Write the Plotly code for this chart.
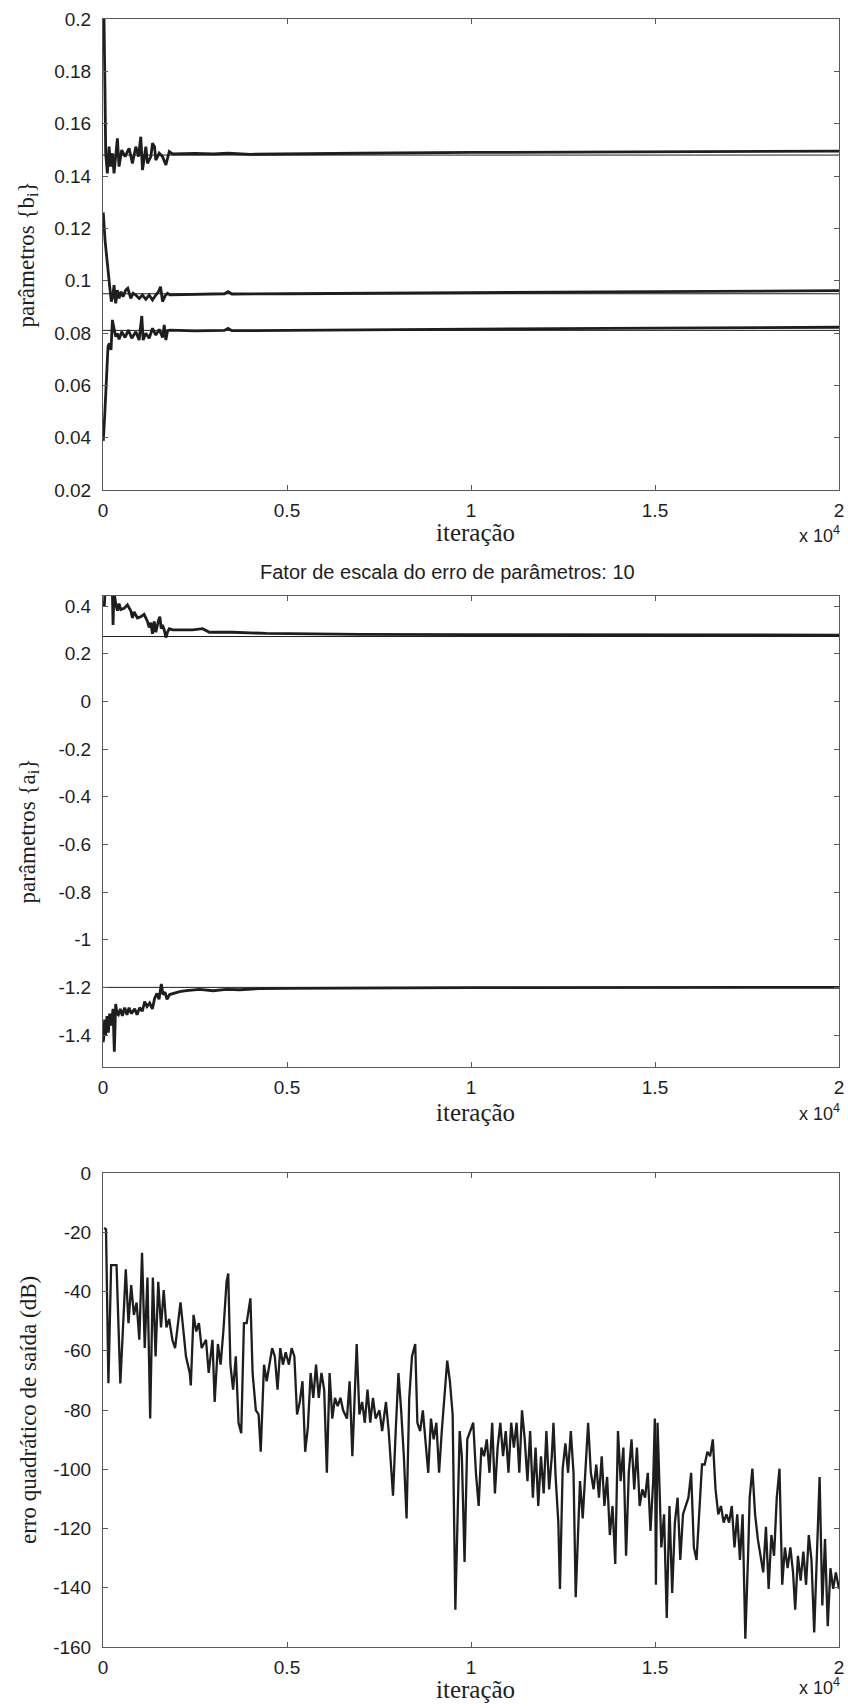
import plotly.graph_objects as go

# ---------------- data ----------------
# top panel: parameters {b_i}
b1_iter = [0, 27, 55, 73, 118, 164, 209, 255, 300, 391, 436, 509, 600, 709, 800, 891, 964, 1027, 1073,
           1164, 1209, 1300, 1345, 1400, 1436, 1527, 1618, 1709, 1754, 1800, 1891, 2500, 3000, 3400,
           4000, 5000, 7000, 10000, 15000, 20000]
b1_val = [0.200, 0.200, 0.1716, 0.1487, 0.1410, 0.1512, 0.1436, 0.1487, 0.1410, 0.1544, 0.1436, 0.1499,
          0.1474, 0.1506, 0.1448, 0.1512, 0.1474, 0.1550, 0.1423, 0.1512, 0.1448, 0.1474, 0.1525, 0.1512,
          0.1461, 0.1487, 0.1474, 0.1442, 0.1468, 0.1493, 0.1484, 0.1486, 0.1484, 0.1487, 0.1483, 0.1485,
          0.1487, 0.1490, 0.1493, 0.1495]

b2_iter = [0, 9, 55, 118, 182, 227, 264, 300, 345, 391, 436, 491, 545, 618, 673, 755, 818, 891, 982,
           1073, 1164, 1255, 1345, 1436, 1509, 1564, 1618, 1682, 1754, 1818, 2500, 3300, 3400, 3500,
           5000, 10000, 15000, 20000]
b2_val = [0.1260, 0.1257, 0.1155, 0.1053, 0.0977, 0.0920, 0.0939, 0.0983, 0.0913, 0.0964, 0.0932, 0.0958,
          0.0939, 0.0964, 0.0971, 0.0932, 0.0952, 0.0945, 0.0932, 0.0945, 0.0929, 0.0945, 0.0926, 0.0945,
          0.0958, 0.0977, 0.0920, 0.0941, 0.0952, 0.0946, 0.0948, 0.0950, 0.0958, 0.0949, 0.0950, 0.0955,
          0.0958, 0.0962]

b3_iter = [0, 9, 45, 73, 100, 136, 173, 218, 255, 300, 345, 391, 436, 509, 600, 691, 782, 891, 982,
           1054, 1091, 1164, 1255, 1345, 1436, 1527, 1618, 1664, 1709, 1754, 1818, 2500, 3300, 3400,
           3500, 5000, 10000, 15000, 20000]
b3_val = [0.0390, 0.0391, 0.0480, 0.0569, 0.0671, 0.0748, 0.0761, 0.0735, 0.0850, 0.0818, 0.0786, 0.0799,
          0.0776, 0.0805, 0.0783, 0.0811, 0.0780, 0.0805, 0.0773, 0.0865, 0.0773, 0.0799, 0.0780, 0.0818,
          0.0792, 0.0814, 0.0783, 0.0831, 0.0773, 0.0809, 0.0811, 0.0808, 0.0810, 0.0818, 0.0809, 0.0810,
          0.0815, 0.0819, 0.0822]

b_true = [0.148, 0.095, 0.081]

# middle panel: parameters {a_i}
a1_iter = [0, 9, 36, 55, 255, 273, 300, 345, 391, 436, 482, 573, 664, 755, 800, 845, 936, 1027, 1118,
           1209, 1255, 1300, 1345, 1391, 1436, 1509, 1545, 1582, 1618, 1664, 1709, 1754, 1800, 1891,
           2073, 2436, 2709, 2891, 3163, 3527, 4436, 5345, 7000, 10000, 15000, 20000]
a1_val = [0.42, 0.41, 0.40, 0.46, 0.46, 0.32, 0.46, 0.41, 0.38, 0.41, 0.385, 0.39, 0.405, 0.38, 0.35,
          0.375, 0.35, 0.355, 0.365, 0.335, 0.31, 0.33, 0.283, 0.335, 0.29, 0.34, 0.355, 0.305, 0.32,
          0.30, 0.268, 0.29, 0.305, 0.30, 0.30, 0.30, 0.305, 0.29, 0.29, 0.29, 0.285, 0.283, 0.281,
          0.280, 0.279, 0.278]

a2_iter = [0, 18, 45, 72, 109, 145, 181, 227, 272, 308, 344, 381, 417, 471, 526, 589, 652, 707, 770,
           861, 924, 997, 1069, 1132, 1196, 1268, 1341, 1404, 1468, 1522, 1585, 1631, 1685, 1739, 1812,
           1903, 2084, 2265, 2628, 2990, 3352, 3714, 4258, 5000, 7000, 10000, 20000]
a2_val = [-1.43, -1.418, -1.335, -1.40, -1.32, -1.39, -1.31, -1.36, -1.29, -1.47, -1.27, -1.31, -1.315,
          -1.29, -1.32, -1.285, -1.315, -1.285, -1.31, -1.29, -1.315, -1.285, -1.30, -1.26, -1.28, -1.265,
          -1.29, -1.245, -1.225, -1.25, -1.186, -1.23, -1.22, -1.25, -1.23, -1.225, -1.218, -1.214,
          -1.208, -1.214, -1.208, -1.21, -1.205, -1.204, -1.202, -1.201, -1.200]

a_true = [0.272, -1.2]

# bottom panel: output squared error (dB)
e_iter = [29, 82, 147, 221, 368, 471, 619, 692, 766, 840, 913, 987, 1061, 1134, 1208, 1282, 1355, 1429,
          1502, 1576, 1650, 1723, 1797, 1885, 1959, 2106, 2210, 2254, 2357, 2386, 2460, 2534, 2607, 2681,
          2799, 2872, 2975, 3034, 3123, 3196, 3270, 3358, 3403, 3462, 3535, 3609, 3683, 3756, 3830, 3903,
          4006, 4065, 4154, 4228, 4286, 4375, 4448, 4522, 4596, 4669, 4743, 4817, 4890, 4964, 5052, 5126,
          5200, 5273, 5347, 5421, 5494, 5568, 5642, 5715, 5789, 5863, 5936, 6010, 6083, 6157, 6231, 6304,
          6378, 6452, 6525, 6629, 6702, 6776, 6849, 6894, 6967, 7041, 7115, 7188, 7262, 7336, 7409, 7512,
          7586, 7689, 7763, 7836, 7881, 7954, 8028, 8102, 8175, 8249, 8322, 8396, 8484, 8543, 8617, 8691,
          8764, 8838, 8912, 8985, 9059, 9133, 9206, 9280, 9354, 9427, 9501, 9575, 9692, 9751, 9825, 9899,
          9987, 10061, 10134, 10208, 10282, 10355, 10429, 10502, 10576, 10650, 10723, 10797, 10871, 10944,
          11018, 11092, 11165, 11239, 11313, 11386, 11460, 11534, 11607, 11681, 11755, 11828, 11902, 11975,
          12049, 12123, 12196, 12241, 12300, 12373, 12417, 12491, 12565, 12638, 12712, 12786, 12845, 12903,
          12962, 13036, 13110, 13183, 13257, 13331, 13404, 13478, 13552, 13625, 13699, 13773, 13846, 13920,
          13994, 14067, 14141, 14214, 14288, 14362, 14435, 14509, 14583, 14656, 14730, 14804, 14877, 14951,
          14995, 15025, 15069, 15113, 15172, 15246, 15319, 15393, 15467, 15540, 15614, 15688, 15761, 15835,
          15908, 15982, 16056, 16129, 16203, 16277, 16350, 16424, 16498, 16571, 16645, 16719, 16792, 16866,
          16940, 17013, 17087, 17160, 17234, 17308, 17381, 17455, 17529, 17573, 17646, 17720, 17794, 17867,
          17941, 18015, 18088, 18162, 18236, 18309, 18383, 18457, 18530, 18604, 18678, 18751, 18810, 18884,
          18958, 19031, 19105, 19179, 19252, 19326, 19399, 19473, 19547, 19620, 19694, 19768, 19841, 19915,
          20000]
e_db = [-18.5, -19.0, -71.0, -31.1, -31.1, -71.0, -32.5, -50.7, -37.8, -47.9, -43.7, -56.3, -26.9, -59.1,
        -35.3, -82.9, -35.3, -61.9, -36.7, -52.1, -39.5, -52.1, -49.3, -56.3, -59.1, -43.7, -56.3, -61.9,
        -67.5, -71.7, -47.9, -53.5, -50.7, -59.1, -56.3, -67.5, -56.3, -77.3, -57.7, -64.7, -53.5, -36.7,
        -33.9, -64.7, -73.1, -61.9, -84.3, -87.8, -50.7, -50.7, -42.3, -67.5, -80.1, -81.5, -94.1, -64.7,
        -70.3, -64.7, -59.1, -61.9, -73.1, -59.1, -64.7, -60.5, -64.7, -59.1, -61.9, -81.5, -77.3, -70.3,
        -94.1, -85.7, -67.5, -75.9, -64.7, -75.9, -67.5, -73.1, -101.2, -67.5, -82.9, -75.9, -78.7, -75.9,
        -80.1, -82.9, -70.3, -95.6, -71.7, -57.7, -81.5, -77.3, -84.3, -73.1, -84.3, -75.9, -82.9, -80.1,
        -87.1, -77.3, -87.1, -101.2, -108.9, -87.1, -67.5, -80.1, -95.6, -116.6, -75.9, -61.9, -57.7, -84.3,
        -87.1, -80.1, -91.3, -101.2, -82.9, -89.9, -84.3, -101.2, -87.1, -75.9, -63.3, -70.3, -81.5, -147.4,
        -87.1, -95.6, -131.3, -89.9, -87.1, -84.3, -101.2, -112.4, -92.7, -95.6, -89.9, -101.2, -84.3,
        -108.2, -92.7, -84.3, -95.6, -87.1, -101.2, -84.3, -92.7, -84.3, -101.2, -80.1, -89.9, -104.0,
        -87.1, -109.6, -92.7, -112.4, -95.6, -108.2, -87.1, -106.8, -95.6, -84.3, -102.6, -118.0, -140.4,
        -99.8, -91.3, -101.2, -87.1, -101.2, -143.2, -123.6, -104.0, -116.6, -98.4, -84.3, -101.2, -106.8,
        -98.4, -109.6, -95.6, -112.4, -102.6, -122.2, -112.4, -132.0, -87.1, -104.0, -92.7, -129.2, -101.2,
        -89.9, -106.8, -92.7, -112.4, -106.8, -109.6, -101.2, -120.8, -104.0, -82.9, -139.0, -84.3, -104.0,
        -126.4, -115.2, -150.2, -112.4, -141.8, -118.0, -109.6, -130.6, -115.2, -112.4, -109.6, -101.2,
        -126.4, -130.6, -115.2, -98.4, -98.4, -94.1, -95.6, -89.9, -106.8, -115.2, -112.4, -118.0, -115.2,
        -118.0, -112.4, -126.4, -115.2, -130.6, -115.2, -157.2, -129.2, -109.6, -99.8, -115.2, -123.6,
        -129.2, -134.8, -119.4, -140.4, -122.2, -129.2, -109.6, -99.8, -139.0, -126.4, -133.4, -126.4,
        -134.8, -147.4, -129.2, -137.6, -127.8, -139.0, -122.2, -130.6, -155.1, -132.0, -102.6, -146.0,
        -123.6, -153.0, -133.4, -140.4, -134.8, -140.4]

x_tickvals = [0, 5000, 10000, 15000, 20000]
x_ticktext = ["0", "0.5", "1", "1.5", "2"]
yb_tickvals = [0.02, 0.04, 0.06, 0.08, 0.10, 0.12, 0.14, 0.16, 0.18, 0.20]
yb_ticktext = ["0.02", "0.04", "0.06", "0.08", "0.1", "0.12", "0.14", "0.16", "0.18", "0.2"]
ya_tickvals = [-1.4, -1.2, -1.0, -0.8, -0.6, -0.4, -0.2, 0.0, 0.2, 0.4]
ya_ticktext = ["-1.4", "-1.2", "-1", "-0.8", "-0.6", "-0.4", "-0.2", "0", "0.2", "0.4"]
ye_tickvals = [-160, -140, -120, -100, -80, -60, -40, -20, 0]
ye_ticktext = ["-160", "-140", "-120", "-100", "-80", "-60", "-40", "-20", "0"]

# ---------------- layout constants ----------------
W, H = 848, 1708
X0, X1 = 103, 839
PANELS = [(19, 490), (596, 1067), (1173, 1647)]  # (top, bottom) in px

def py(v):
    return 1 - v / H

def px(v):
    return v / W

SANS = "Liberation Sans, Arial, sans-serif"
SERIF = "Liberation Serif, Times New Roman, serif"
INK = "#1e1e1e"
AX = "#5a5a5a"

fig = go.Figure()

thick = dict(color=INK, width=2.8)
for xi, yi in [(b1_iter, b1_val), (b2_iter, b2_val), (b3_iter, b3_val)]:
    fig.add_trace(go.Scatter(x=xi, y=yi, mode="lines", line=thick, xaxis="x", yaxis="y",
                             hoverinfo="skip"))
for v in b_true:
    fig.add_trace(go.Scatter(x=[0, 20000], y=[v, v], mode="lines", line=dict(color=INK, width=1),
                             xaxis="x", yaxis="y", hoverinfo="skip"))

for v in a_true:
    fig.add_trace(go.Scatter(x=[0, 20000], y=[v, v], mode="lines", line=dict(color=INK, width=1),
                             xaxis="x2", yaxis="y2", hoverinfo="skip"))
for xi, yi in [(a1_iter, a1_val), (a2_iter, a2_val)]:
    fig.add_trace(go.Scatter(x=xi, y=yi, mode="lines", line=thick, xaxis="x2", yaxis="y2",
                             hoverinfo="skip"))

fig.add_trace(go.Scatter(x=e_iter, y=e_db, mode="lines", line=dict(color=INK, width=2.3),
                         xaxis="x3", yaxis="y3", hoverinfo="skip"))

common = dict(showline=True, linecolor=AX, linewidth=1, mirror="ticks", ticks="inside",
              ticklen=5, tickcolor=AX, showgrid=False, zeroline=False, automargin=False,
              tickfont=dict(family=SANS, size=19, color=INK), fixedrange=True)

xcommon = dict(common, range=[0, 20000], tickmode="array", tickvals=x_tickvals,
               ticktext=x_ticktext, domain=[px(X0), px(X1)], ticklabelstandoff=3)

layout = dict(
    width=W, height=H, margin=dict(l=0, r=0, t=0, b=0),
    paper_bgcolor="white", plot_bgcolor="white", showlegend=False,
    xaxis=dict(xcommon, anchor="y"),
    xaxis2=dict(xcommon, anchor="y2"),
    xaxis3=dict(xcommon, anchor="y3"),
    yaxis=dict(common, anchor="x", range=[0.02, 0.2], tickmode="array", tickvals=yb_tickvals,
               ticktext=yb_ticktext, domain=[py(PANELS[0][1]), py(PANELS[0][0])],
               ticklabelstandoff=7),
    yaxis2=dict(common, anchor="x2", range=[-1.534, 0.442], tickmode="array", tickvals=ya_tickvals,
                ticktext=ya_ticktext, domain=[py(PANELS[1][1]), py(PANELS[1][0])],
                ticklabelstandoff=7),
    yaxis3=dict(common, anchor="x3", range=[-160, 0], tickmode="array", tickvals=ye_tickvals,
                ticktext=ye_ticktext, domain=[py(PANELS[2][1]), py(PANELS[2][0])],
                ticklabelstandoff=7),
)
fig.update_layout(**layout)

ann = []
xlabel_y = [533, 1112, 1689]
exp_y = [534, 1112, 1686]
ylabels = ["parâmetros {b<sub>i</sub>}", "parâmetros {a<sub>i</sub>}", "erro quadrático de saída (dB)"]
for i, (top, bot) in enumerate(PANELS):
    ann.append(dict(text="iteração", x=px(475), y=py(xlabel_y[i]), xref="paper", yref="paper",
                    xanchor="center", yanchor="middle", showarrow=False,
                    font=dict(family=SERIF, size=25, color=INK)))
    ann.append(dict(text="x 10<sup>4</sup>", x=px(842), y=py(exp_y[i]), xref="paper", yref="paper",
                    xanchor="right", yanchor="middle", showarrow=False,
                    font=dict(family=SANS, size=18, color=INK)))
    ann.append(dict(text=ylabels[i], x=px(28), y=py((top + bot) / 2), xref="paper", yref="paper",
                    xanchor="center", yanchor="middle", textangle=-90, showarrow=False,
                    font=dict(family=SERIF, size=23, color=INK)))
ann.append(dict(text="Fator de escala do erro de parâmetros: 10", x=px(447), y=py(572),
                xref="paper", yref="paper", xanchor="center", yanchor="middle", showarrow=False,
                font=dict(family=SANS, size=20, color=INK)))
fig.update_layout(annotations=ann)

fig.write_html(
    "out.html",
    config={"displayModeBar": False, "staticPlot": True},
    post_script="document.body.style.margin='0';document.documentElement.style.overflow='hidden';",
)
